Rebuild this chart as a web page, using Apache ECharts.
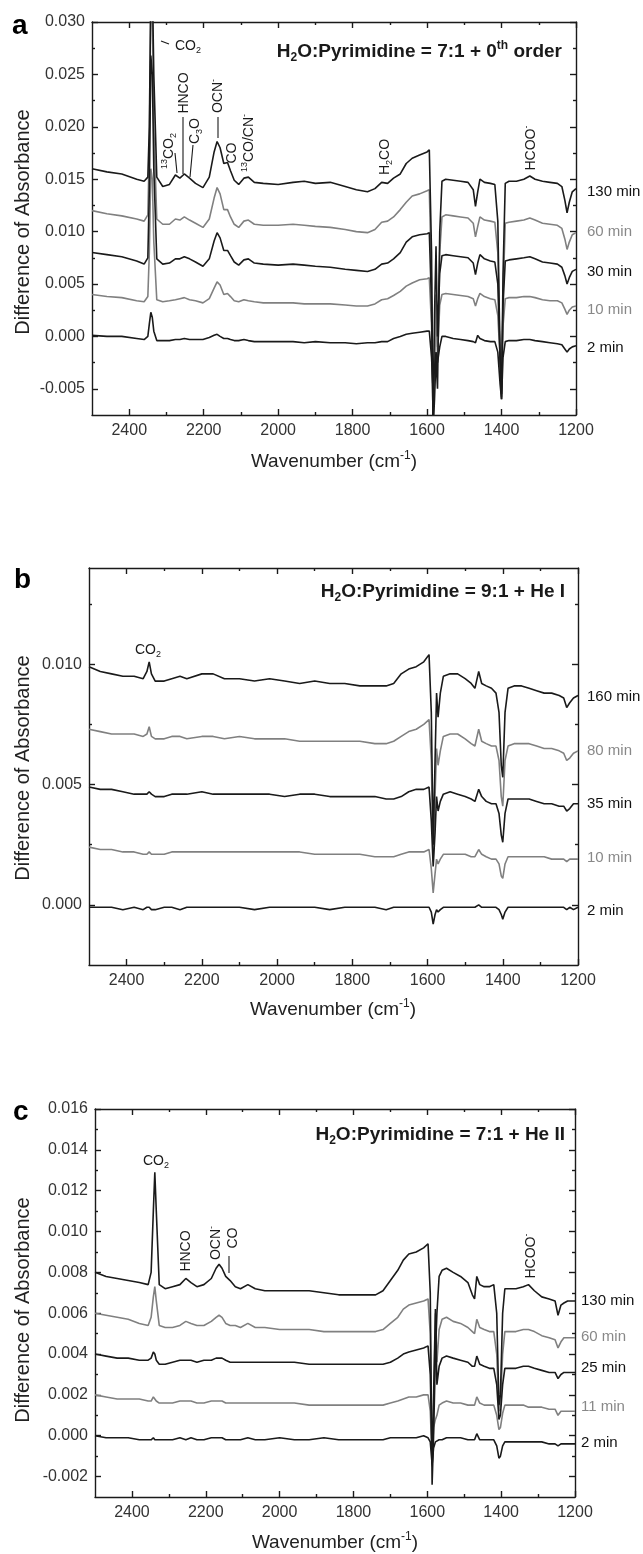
<!DOCTYPE html>
<html>
<head>
<meta charset="utf-8">
<script src="https://cdn.jsdelivr.net/npm/echarts@6.0.0/dist/echarts.min.js"></script>
<style>
html, body { margin: 0; padding: 0; background: #fff; }
#main { width: 643px; height: 1554px; }
</style>
</head>
<body>
<div id="main"></div>
<script>
// ---- axis ticks ----
const X_MAJOR = [1200, 1400, 1600, 1800, 2000, 2200, 2400];
const X_MINOR = [1300, 1500, 1700, 1900, 2100, 2300];
const A_Y_MAJOR = [-0.005, 0, 0.005, 0.01, 0.015, 0.02, 0.025, 0.03];
const A_Y_MINOR = [-0.0025, 0.0025, 0.0075, 0.0125, 0.0175, 0.0225, 0.0275];
const B_Y_MAJOR = [0, 0.005, 0.01];
const B_Y_MINOR = [0.0025, 0.0075, 0.0125];
const C_Y_MAJOR = [-0.002, 0, 0.002, 0.004, 0.006, 0.008, 0.01, 0.012, 0.014, 0.016];
const C_Y_MINOR = [-0.001, 0.001, 0.003, 0.005, 0.007, 0.009, 0.011, 0.013, 0.015];

// ---- panel a : 7:1 + 0th order ----
const WN_A = [
  2500, 2460, 2420, 2380, 2360, 2350, 2346, 2342, 2338, 2334,
  2326, 2310, 2292, 2276, 2264, 2252, 2238, 2222, 2202, 2185,
  2172, 2164, 2156, 2146, 2136, 2128, 2118, 2106, 2092, 2080,
  2064, 2040, 2000, 1960, 1930, 1900, 1860, 1820, 1790, 1760,
  1740, 1722, 1706, 1690, 1672, 1656, 1640, 1620, 1600, 1594,
  1588, 1584, 1580, 1576, 1572, 1566, 1560, 1550, 1530, 1510,
  1490, 1476, 1470, 1464, 1458, 1446, 1430, 1418, 1410, 1404,
  1400, 1396, 1390, 1380, 1360, 1340, 1324, 1310, 1290, 1270,
  1250, 1238, 1230, 1224, 1218, 1210, 1200
];
const A130 = [
  0.0160, 0.0157, 0.0155, 0.0150, 0.0148, 0.0152, 0.0200, 0.0330, 0.0340, 0.0250,
  0.0152, 0.0143, 0.0145, 0.0154, 0.0151, 0.0155, 0.0151, 0.0146, 0.0142, 0.0152,
  0.0176, 0.0186, 0.0180, 0.0165, 0.0166, 0.0158, 0.0149, 0.0145, 0.0151, 0.0152,
  0.0147, 0.0146, 0.0145, 0.0147, 0.0148, 0.0146, 0.0147, 0.0143, 0.0140, 0.0138,
  0.0141, 0.0147, 0.0146, 0.0151, 0.0155, 0.0165, 0.0170, 0.0173, 0.0176, 0.0178,
  0.0080, -0.0090, -0.0060, -0.0020, -0.0050, 0.0100, 0.0148, 0.0150, 0.0149, 0.0148,
  0.0147, 0.0140, 0.0124, 0.0138, 0.0150, 0.0147, 0.0146, 0.0145, 0.0110, -0.0020,
  -0.0060, 0.0060, 0.0146, 0.0148, 0.0148, 0.0150, 0.0153, 0.0150, 0.0148, 0.0147,
  0.0146, 0.0143, 0.0130, 0.0118, 0.0128, 0.0138, 0.0141
];
const A60 = [
  0.0120, 0.0117, 0.0115, 0.0112, 0.0110, 0.0116, 0.0180, 0.0320, 0.0310, 0.0200,
  0.0112, 0.0107, 0.0107, 0.0112, 0.0111, 0.0114, 0.0111, 0.0108, 0.0104, 0.0112,
  0.0132, 0.0142, 0.0136, 0.0121, 0.0121, 0.0114, 0.0107, 0.0104, 0.0110, 0.0111,
  0.0107, 0.0106, 0.0106, 0.0107, 0.0106, 0.0105, 0.0104, 0.0102, 0.0100, 0.0099,
  0.0102, 0.0109, 0.0110, 0.0114, 0.0121, 0.0128, 0.0134, 0.0136, 0.0139, 0.0140,
  0.0050, -0.0085, -0.0040, 0.0030, -0.0010, 0.0080, 0.0114, 0.0116, 0.0115, 0.0114,
  0.0113, 0.0108, 0.0095, 0.0105, 0.0114, 0.0111, 0.0110, 0.0109, 0.0080, -0.0020,
  -0.0058, 0.0040, 0.0108, 0.0109, 0.0110, 0.0111, 0.0113, 0.0111, 0.0108, 0.0107,
  0.0106, 0.0103, 0.0093, 0.0083, 0.0090, 0.0097, 0.0099
];
const A30 = [
  0.0080, 0.0078, 0.0076, 0.0072, 0.0069, 0.0075, 0.0140, 0.0268, 0.0250, 0.0160,
  0.0074, 0.0069, 0.0070, 0.0074, 0.0074, 0.0076, 0.0074, 0.0071, 0.0067, 0.0074,
  0.0091, 0.0099, 0.0094, 0.0082, 0.0082, 0.0077, 0.0071, 0.0068, 0.0073, 0.0074,
  0.0070, 0.0069, 0.0068, 0.0069, 0.0068, 0.0067, 0.0066, 0.0064, 0.0063, 0.0062,
  0.0064, 0.0069, 0.0070, 0.0074, 0.0080, 0.0090, 0.0095, 0.0097, 0.0098, 0.0099,
  0.0030, -0.0080, 0.0020, 0.0086, 0.0000, 0.0060, 0.0077, 0.0078, 0.0077, 0.0076,
  0.0075, 0.0070, 0.0059, 0.0070, 0.0078, 0.0074, 0.0072, 0.0071, 0.0050, -0.0020,
  -0.0055, 0.0030, 0.0072, 0.0073, 0.0074, 0.0075, 0.0076, 0.0074, 0.0071, 0.0070,
  0.0069, 0.0066, 0.0058, 0.0050, 0.0056, 0.0062, 0.0064
];
const A10 = [
  0.0040, 0.0038, 0.0037, 0.0034, 0.0033, 0.0038, 0.0080, 0.0160, 0.0150, 0.0090,
  0.0035, 0.0033, 0.0034, 0.0035, 0.0036, 0.0037, 0.0035, 0.0034, 0.0032, 0.0036,
  0.0046, 0.0052, 0.0049, 0.0040, 0.0041, 0.0038, 0.0034, 0.0033, 0.0035, 0.0034,
  0.0033, 0.0032, 0.0032, 0.0032, 0.0031, 0.0031, 0.0031, 0.0030, 0.0029, 0.0029,
  0.0031, 0.0035, 0.0036, 0.0039, 0.0043, 0.0048, 0.0051, 0.0054, 0.0055, 0.0056,
  0.0010, -0.0060, -0.0010, 0.0040, -0.0020, 0.0030, 0.0040, 0.0041, 0.0040, 0.0039,
  0.0038, 0.0036, 0.0029, 0.0036, 0.0041, 0.0038, 0.0036, 0.0035, 0.0020, -0.0020,
  -0.0050, 0.0010, 0.0036, 0.0037, 0.0037, 0.0038, 0.0038, 0.0037, 0.0035, 0.0034,
  0.0034, 0.0032, 0.0026, 0.0021, 0.0025, 0.0028, 0.0029
];
const A2 = [
  0.0001, 0.0000, 0.0000, -0.0002, -0.0003, 0.0000, 0.0012, 0.0023, 0.0018, 0.0005,
  -0.0004, -0.0004, -0.0004, -0.0003, -0.0003, -0.0002, -0.0003, -0.0003, -0.0003, -0.0001,
  0.0001, 0.0002, 0.0000, -0.0002, -0.0002, -0.0003, -0.0004, -0.0004, -0.0003, -0.0004,
  -0.0005, -0.0005, -0.0005, -0.0005, -0.0006, -0.0005, -0.0006, -0.0006, -0.0007, -0.0006,
  -0.0006, -0.0005, -0.0005, -0.0002, 0.0000, 0.0002, 0.0003, 0.0004, 0.0005, 0.0005,
  -0.0020, -0.0050, -0.0030, -0.0015, -0.0025, -0.0010, 0.0000, 0.0000, -0.0002, -0.0003,
  -0.0004, -0.0005, -0.0006, 0.0001, -0.0002, -0.0004, -0.0005, -0.0005, -0.0015, -0.0045,
  -0.0060, -0.0020, -0.0005, -0.0004, -0.0004, -0.0003, -0.0003, -0.0004, -0.0005, -0.0006,
  -0.0007, -0.0008, -0.0012, -0.0015, -0.0012, -0.0010, -0.0009
];

// ---- panel b : 9:1 + He I ----
const WN_B = [
  2500, 2470, 2440, 2410, 2380, 2356, 2346, 2340, 2334, 2324,
  2300, 2280, 2258, 2240, 2200, 2170, 2140, 2100, 2060, 2020,
  1980, 1940, 1900, 1860, 1820, 1780, 1740, 1710, 1690, 1670,
  1650, 1630, 1610, 1596, 1590, 1585, 1580, 1576, 1572, 1566,
  1558, 1540, 1520, 1500, 1484, 1474, 1464, 1456, 1444, 1430,
  1418, 1410, 1404, 1400, 1394, 1386, 1370, 1350, 1330, 1310,
  1290, 1270, 1250, 1238, 1230, 1222, 1212, 1200
];
const B160 = [
  0.0099, 0.0097, 0.0096, 0.0095, 0.0095, 0.0094, 0.0097, 0.0101, 0.0096, 0.0093,
  0.0093, 0.0094, 0.0095, 0.0094, 0.0096, 0.0096, 0.0094, 0.0094, 0.0093, 0.0094,
  0.0093, 0.0092, 0.0093, 0.0092, 0.0092, 0.0091, 0.0091, 0.0091, 0.0092, 0.0096,
  0.0098, 0.0099, 0.0101, 0.0104, 0.0080, 0.0025, 0.0060, 0.0088, 0.0078, 0.0088,
  0.0095, 0.0096, 0.0096, 0.0094, 0.0092, 0.0090, 0.0097, 0.0092, 0.0091, 0.0090,
  0.0088, 0.0080, 0.0058, 0.0053, 0.0080, 0.0090, 0.0091, 0.0091, 0.0090, 0.0089,
  0.0088, 0.0088, 0.0087, 0.0086, 0.0082, 0.0084, 0.0086, 0.0087
];
const B80 = [
  0.0073, 0.0072, 0.0071, 0.0071, 0.0071, 0.0070, 0.0071, 0.0074, 0.0070, 0.0069,
  0.0069, 0.0070, 0.0070, 0.0069, 0.0070, 0.0070, 0.0069, 0.0070, 0.0069, 0.0069,
  0.0069, 0.0068, 0.0068, 0.0068, 0.0068, 0.0068, 0.0067, 0.0067, 0.0068, 0.0070,
  0.0072, 0.0073, 0.0075, 0.0077, 0.0060, 0.0018, 0.0045, 0.0065, 0.0058, 0.0064,
  0.0070, 0.0071, 0.0071, 0.0069, 0.0067, 0.0066, 0.0073, 0.0068, 0.0067, 0.0066,
  0.0066, 0.0060, 0.0045, 0.0041, 0.0060, 0.0066, 0.0067, 0.0067, 0.0067, 0.0066,
  0.0065, 0.0065, 0.0064, 0.0063, 0.0060, 0.0061, 0.0063, 0.0064
];
const B35 = [
  0.0049, 0.0048, 0.0048, 0.0047, 0.0046, 0.0046, 0.0046, 0.0047, 0.0046, 0.0045,
  0.0045, 0.0046, 0.0046, 0.0046, 0.0047, 0.0046, 0.0046, 0.0046, 0.0046, 0.0046,
  0.0045, 0.0046, 0.0046, 0.0045, 0.0045, 0.0045, 0.0045, 0.0044, 0.0044, 0.0045,
  0.0047, 0.0048, 0.0048, 0.0049, 0.0035, 0.0016, 0.0030, 0.0045, 0.0039, 0.0043,
  0.0046, 0.0047, 0.0046, 0.0045, 0.0044, 0.0043, 0.0048, 0.0045, 0.0043, 0.0042,
  0.0042, 0.0038, 0.0029, 0.0026, 0.0038, 0.0044, 0.0044, 0.0044, 0.0044, 0.0043,
  0.0042, 0.0042, 0.0041, 0.0041, 0.0039, 0.0040, 0.0042, 0.0042
];
const B10 = [
  0.0024, 0.0023, 0.0023, 0.0022, 0.0022, 0.0021, 0.0021, 0.0022, 0.0021, 0.0021,
  0.0021, 0.0022, 0.0022, 0.0022, 0.0022, 0.0022, 0.0022, 0.0022, 0.0022, 0.0022,
  0.0022, 0.0022, 0.0021, 0.0021, 0.0021, 0.0021, 0.0020, 0.0020, 0.0020, 0.0021,
  0.0022, 0.0022, 0.0022, 0.0023, 0.0015, 0.0005, 0.0013, 0.0019, 0.0017, 0.0019,
  0.0021, 0.0021, 0.0021, 0.0021, 0.0020, 0.0020, 0.0023, 0.0021, 0.0020, 0.0019,
  0.0019, 0.0017, 0.0012, 0.0011, 0.0017, 0.0020, 0.0020, 0.0020, 0.0020, 0.0020,
  0.0020, 0.0019, 0.0019, 0.0019, 0.0018, 0.0019, 0.0019, 0.0019
];
const B2 = [
  -0.0001, -0.0001, -0.0001, -0.0002, -0.0001, -0.0002, -0.0001, -0.0001, -0.0002, -0.0002,
  -0.0001, -0.0001, -0.0002, -0.0001, -0.0001, -0.0001, -0.0001, -0.0001, -0.0002, -0.0001,
  -0.0001, -0.0001, -0.0001, -0.0002, -0.0001, -0.0001, -0.0001, -0.0002, -0.0001, -0.0001,
  -0.0001, -0.0001, -0.0001, -0.0001, -0.0003, -0.0008, -0.0004, -0.0002, -0.0003, -0.0002,
  -0.0001, -0.0001, -0.0001, -0.0001, -0.0001, -0.0001, 0.0000, -0.0001, -0.0001, -0.0001,
  -0.0001, -0.0002, -0.0004, -0.0006, -0.0003, -0.0001, -0.0001, -0.0001, -0.0001, -0.0001,
  -0.0001, -0.0001, -0.0001, -0.0001, -0.0002, -0.0001, -0.0002, -0.0001
];

// ---- panel c : 7:1 + He II ----
const WN_C = [
  2500, 2470, 2440, 2410, 2380, 2356, 2348, 2342, 2338, 2334,
  2326, 2310, 2290, 2270, 2254, 2240, 2224, 2205, 2185, 2172,
  2164, 2156, 2146, 2134, 2120, 2106, 2086, 2066, 2040, 2000,
  1960, 1920, 1880, 1840, 1800, 1770, 1740, 1720, 1700, 1680,
  1665, 1650, 1630, 1610, 1598, 1592, 1587, 1583, 1578, 1574,
  1568, 1560, 1548, 1530, 1510, 1490, 1478, 1472, 1466, 1458,
  1446, 1432, 1420, 1412, 1406, 1402, 1396, 1390, 1380, 1360,
  1340, 1326, 1310, 1290, 1270, 1254, 1246, 1238, 1230, 1220,
  1210, 1200
];
const C130 = [
  0.0080, 0.0078, 0.0077, 0.0076, 0.0075, 0.0074, 0.0080, 0.0110, 0.0129, 0.0110,
  0.0074, 0.0072, 0.0073, 0.0074, 0.0077, 0.0075, 0.0073, 0.0074, 0.0077, 0.0082,
  0.0084, 0.0082, 0.0078, 0.0076, 0.0073, 0.0072, 0.0074, 0.0072, 0.0071, 0.0071,
  0.0071, 0.0071, 0.0070, 0.0069, 0.0069, 0.0069, 0.0069, 0.0071, 0.0076, 0.0081,
  0.0086, 0.0089, 0.0090, 0.0092, 0.0094, 0.0070, -0.0024, 0.0000, 0.0040, 0.0060,
  0.0078, 0.0081, 0.0082, 0.0080, 0.0078, 0.0075, 0.0069, 0.0067, 0.0078, 0.0074,
  0.0073, 0.0073, 0.0074, 0.0060, 0.0015, 0.0020, 0.0060, 0.0072, 0.0072, 0.0072,
  0.0073, 0.0074, 0.0071, 0.0068, 0.0067, 0.0066, 0.0059, 0.0064, 0.0065, 0.0066,
  0.0066, 0.0066
];
const C60 = [
  0.0060, 0.0059, 0.0058, 0.0057, 0.0055, 0.0054, 0.0058, 0.0068, 0.0073, 0.0066,
  0.0054, 0.0053, 0.0053, 0.0054, 0.0056, 0.0055, 0.0054, 0.0054, 0.0056, 0.0058,
  0.0059, 0.0058, 0.0055, 0.0054, 0.0054, 0.0053, 0.0055, 0.0053, 0.0053, 0.0052,
  0.0052, 0.0052, 0.0051, 0.0051, 0.0051, 0.0051, 0.0051, 0.0052, 0.0055, 0.0058,
  0.0062, 0.0064, 0.0065, 0.0066, 0.0067, 0.0050, -0.0015, 0.0010, 0.0060, 0.0036,
  0.0052, 0.0057, 0.0058, 0.0056, 0.0055, 0.0053, 0.0051, 0.0050, 0.0057, 0.0053,
  0.0052, 0.0051, 0.0051, 0.0040, 0.0012, 0.0015, 0.0040, 0.0051, 0.0051, 0.0051,
  0.0052, 0.0052, 0.0051, 0.0049, 0.0048, 0.0047, 0.0043, 0.0046, 0.0048, 0.0048,
  0.0048, 0.0048
];
const C25 = [
  0.0040, 0.0039, 0.0038, 0.0038, 0.0037, 0.0037, 0.0038, 0.0041, 0.0040, 0.0037,
  0.0035, 0.0035, 0.0036, 0.0037, 0.0037, 0.0037, 0.0036, 0.0037, 0.0037, 0.0038,
  0.0038, 0.0038, 0.0037, 0.0036, 0.0036, 0.0036, 0.0036, 0.0036, 0.0036, 0.0036,
  0.0036, 0.0035, 0.0035, 0.0035, 0.0035, 0.0035, 0.0035, 0.0035, 0.0036, 0.0038,
  0.0040, 0.0041, 0.0042, 0.0043, 0.0044, 0.0030, -0.0010, 0.0020, 0.0062, 0.0025,
  0.0034, 0.0038, 0.0039, 0.0038, 0.0037, 0.0036, 0.0034, 0.0034, 0.0039, 0.0035,
  0.0034, 0.0033, 0.0033, 0.0025, 0.0008, 0.0010, 0.0025, 0.0033, 0.0033, 0.0033,
  0.0034, 0.0034, 0.0033, 0.0032, 0.0031, 0.0031, 0.0028, 0.0030, 0.0031, 0.0031,
  0.0031, 0.0031
];
const C11 = [
  0.0020, 0.0019, 0.0018, 0.0018, 0.0018, 0.0017, 0.0017, 0.0019, 0.0019, 0.0017,
  0.0016, 0.0016, 0.0016, 0.0017, 0.0017, 0.0017, 0.0016, 0.0016, 0.0017, 0.0017,
  0.0017, 0.0017, 0.0016, 0.0016, 0.0016, 0.0016, 0.0016, 0.0016, 0.0016, 0.0016,
  0.0016, 0.0015, 0.0015, 0.0015, 0.0015, 0.0015, 0.0015, 0.0015, 0.0016, 0.0017,
  0.0018, 0.0019, 0.0019, 0.0020, 0.0020, 0.0012, -0.0012, 0.0004, 0.0008, 0.0010,
  0.0015, 0.0016, 0.0017, 0.0016, 0.0016, 0.0015, 0.0015, 0.0015, 0.0019, 0.0016,
  0.0015, 0.0015, 0.0015, 0.0010, 0.0003, 0.0004, 0.0011, 0.0015, 0.0015, 0.0015,
  0.0015, 0.0014, 0.0014, 0.0014, 0.0013, 0.0013, 0.0010, 0.0012, 0.0012, 0.0012,
  0.0012, 0.0012
];
const C2 = [
  0.0000, -0.0001, -0.0001, -0.0001, -0.0002, -0.0002, -0.0002, -0.0001, -0.0002, -0.0002,
  -0.0002, -0.0002, -0.0002, -0.0001, -0.0002, -0.0001, -0.0002, -0.0002, -0.0001, -0.0001,
  -0.0001, -0.0001, -0.0002, -0.0002, -0.0002, -0.0002, -0.0001, -0.0002, -0.0002, -0.0001,
  -0.0002, -0.0002, -0.0001, -0.0002, -0.0002, -0.0002, -0.0002, -0.0002, -0.0001, -0.0001,
  -0.0001, -0.0001, -0.0001, 0.0000, -0.0001, -0.0003, -0.0014, -0.0006, -0.0003, -0.0003,
  -0.0002, -0.0002, -0.0001, -0.0001, -0.0001, -0.0002, -0.0002, -0.0002, 0.0001, -0.0002,
  -0.0002, -0.0002, -0.0002, -0.0005, -0.0011, -0.0010, -0.0005, -0.0003, -0.0003, -0.0003,
  -0.0003, -0.0003, -0.0003, -0.0003, -0.0004, -0.0004, -0.0005, -0.0004, -0.0004, -0.0004,
  -0.0004, -0.0004
];

const FONT = '"Liberation Sans", Arial, sans-serif';
const INK = '#1a1a1a';
const GREY = '#808080';

const panels = [
  {
    grid: { left: 92, top: 22, width: 484, height: 393 },
    yMin: -0.0075, yMax: 0.030, yMajor: A_Y_MAJOR, yMinor: A_Y_MINOR, wn: WN_A,
    lines: [['130 min', A130, INK, 192], ['60 min', A60, GREY, 232], ['30 min', A30, INK, 272],
            ['10 min', A10, GREY, 310], ['2 min', A2, INK, 348]],
    labelX: 587
  },
  {
    grid: { left: 89, top: 568, width: 489, height: 397 },
    yMin: -0.0025, yMax: 0.014, yMajor: B_Y_MAJOR, yMinor: B_Y_MINOR, wn: WN_B,
    lines: [['160 min', B160, INK, 697], ['80 min', B80, GREY, 751], ['35 min', B35, INK, 804],
            ['10 min', B10, GREY, 858], ['2 min', B2, INK, 911]],
    labelX: 587
  },
  {
    grid: { left: 95, top: 1109, width: 480, height: 388 },
    yMin: -0.003, yMax: 0.016, yMajor: C_Y_MAJOR, yMinor: C_Y_MINOR, wn: WN_C,
    lines: [['130 min', C130, INK, 1301], ['60 min', C60, GREY, 1337], ['25 min', C25, INK, 1368],
            ['11 min', C11, GREY, 1407], ['2 min', C2, INK, 1443]],
    labelX: 581
  }
];

const lineStyle = { color: INK, width: 1.4 };

function xAxesFor(gi) {
  const base = { gridIndex: gi, type: 'value', min: 1200, max: 2500, inverse: true, splitLine: { show: false } };
  const major = { inside: true, length: 6, customValues: X_MAJOR, lineStyle: lineStyle };
  const minor = { inside: true, length: 3, customValues: X_MINOR, lineStyle: lineStyle };
  const line = { show: true, onZero: false, lineStyle: lineStyle };
  const noLine = { show: false, onZero: false };
  return [
    Object.assign({}, base, {
      position: 'bottom', axisLine: line, axisTick: major,
      axisLabel: { customValues: X_MAJOR, formatter: v => String(v), fontSize: 16, color: '#333', fontFamily: FONT, margin: 8 }
    }),
    Object.assign({}, base, { position: 'bottom', axisLine: noLine, axisTick: minor, axisLabel: { show: false } }),
    Object.assign({}, base, { position: 'top', axisLine: line, axisTick: major, axisLabel: { show: false } }),
    Object.assign({}, base, { position: 'top', axisLine: noLine, axisTick: minor, axisLabel: { show: false } })
  ];
}

function yAxesFor(gi, p) {
  const base = { gridIndex: gi, type: 'value', min: p.yMin, max: p.yMax, splitLine: { show: false } };
  const major = { inside: true, length: 6, customValues: p.yMajor, lineStyle: lineStyle };
  const minor = { inside: true, length: 3, customValues: p.yMinor, lineStyle: lineStyle };
  const line = { show: true, onZero: false, lineStyle: lineStyle };
  const noLine = { show: false, onZero: false };
  return [
    Object.assign({}, base, {
      position: 'left', axisLine: line, axisTick: major,
      axisLabel: { customValues: p.yMajor, formatter: v => v.toFixed(3), fontSize: 16, color: '#333', fontFamily: FONT, margin: 7 }
    }),
    Object.assign({}, base, { position: 'left', axisLine: noLine, axisTick: minor, axisLabel: { show: false } }),
    Object.assign({}, base, { position: 'right', axisLine: line, axisTick: major, axisLabel: { show: false } }),
    Object.assign({}, base, { position: 'right', axisLine: noLine, axisTick: minor, axisLabel: { show: false } })
  ];
}

const grids = [], xAxis = [], yAxis = [], series = [];
panels.forEach((p, gi) => {
  grids.push(Object.assign({ show: false }, p.grid));
  xAxis.push(...xAxesFor(gi));
  yAxis.push(...yAxesFor(gi, p));
  p.lines.forEach(([name, vals, color]) => {
    series.push({
      name: name, type: 'line', xAxisIndex: gi * 4, yAxisIndex: gi * 4,
      data: p.wn.map((w, i) => [w, vals[i]]),
      showSymbol: false, symbol: 'none', clip: true,
      lineStyle: { color: color, width: 1.6 }, itemStyle: { color: color },
      z: color === INK ? 3 : 2
    });
  });
});

// ---- text: rich styles for sub/superscripts ----
const RICH = {
  t: { fontSize: 14, fontFamily: FONT, fill: INK, lineHeight: 18 },
  s: { fontSize: 9, fontFamily: FONT, fill: INK, lineHeight: 8, verticalAlign: 'bottom' },
  p: { fontSize: 9, fontFamily: FONT, fill: INK, lineHeight: 8, verticalAlign: 'top' },
  b: { fontSize: 19, fontFamily: FONT, fontWeight: 'bold', fill: INK, lineHeight: 24 },
  bs: { fontSize: 12, fontFamily: FONT, fontWeight: 'bold', fill: INK, lineHeight: 9, verticalAlign: 'bottom' },
  bp: { fontSize: 12, fontFamily: FONT, fontWeight: 'bold', fill: INK, lineHeight: 9, verticalAlign: 'top' },
  ax: { fontSize: 19, fontFamily: FONT, fill: '#222', lineHeight: 24 },
  axp: { fontSize: 12, fontFamily: FONT, fill: '#222', lineHeight: 10, verticalAlign: 'top' }
};

function rt(x, y, text, opt) {
  opt = opt || {};
  return {
    type: 'text', x: x, y: y, rotation: opt.rot ? Math.PI / 2 : 0, silent: true, z: 10,
    style: { text: text, rich: RICH, align: opt.align || 'center', verticalAlign: 'middle', fill: INK }
  };
}
function plain(x, y, text, size, color, opt) {
  opt = opt || {};
  return {
    type: 'text', x: x, y: y, rotation: opt.rot ? Math.PI / 2 : 0, silent: true, z: 10,
    style: { text: text, fontSize: size, fontFamily: FONT, fontWeight: opt.bold ? 'bold' : 'normal',
             fill: color, align: opt.align || 'left', verticalAlign: 'middle' }
  };
}
function seg(x1, y1, x2, y2) {
  return { type: 'line', silent: true, z: 10, shape: { x1: x1, y1: y1, x2: x2, y2: y2 }, style: { stroke: INK, lineWidth: 1.1 } };
}

const graphic = [
  // panel letters
  plain(12, 26, 'a', 28, '#000', { bold: true }),
  plain(14, 580, 'b', 28, '#000', { bold: true }),
  plain(13, 1112, 'c', 28, '#000', { bold: true }),
  // titles
  rt(562, 52, '{b|H}{bs|2}{b|O:Pyrimidine = 7:1 + 0}{bp|th}{b| order}', { align: 'right' }),
  rt(565, 592, '{b|H}{bs|2}{b|O:Pyrimidine = 9:1 + He I}', { align: 'right' }),
  rt(565, 1135, '{b|H}{bs|2}{b|O:Pyrimidine = 7:1 + He II}', { align: 'right' }),
  // axis titles
  rt(334, 462, '{ax|Wavenumber (cm}{axp|-1}{ax|)}'),
  rt(333, 1010, '{ax|Wavenumber (cm}{axp|-1}{ax|)}'),
  rt(335, 1543, '{ax|Wavenumber (cm}{axp|-1}{ax|)}'),
  plain(23, 222, 'Difference of Absorbance', 20, '#222', { rot: true, align: 'center' }),
  plain(23, 768, 'Difference of Absorbance', 20, '#222', { rot: true, align: 'center' }),
  plain(23, 1310, 'Difference of Absorbance', 20, '#222', { rot: true, align: 'center' }),
  // panel a annotations
  rt(175, 46, '{t|CO}{s|2}', { align: 'left' }),
  seg(161, 41, 169, 44),
  rt(169, 151, '{p|13}{t|CO}{s|2}', { rot: true }),
  seg(175, 153, 177, 173),
  rt(184, 93, '{t|HNCO}', { rot: true }),
  seg(183, 117, 183, 174),
  rt(195, 131, '{t|C}{s|3}{t|O}', { rot: true }),
  seg(193, 145, 190, 177),
  rt(218, 96, '{t|OCN}{p|-}', { rot: true }),
  seg(218, 117, 218, 138),
  rt(232, 153, '{t|CO}', { rot: true }),
  rt(249, 143, '{p|13}{t|CO/CN}{p|-}', { rot: true }),
  rt(385, 157, '{t|H}{s|2}{t|CO}', { rot: true }),
  rt(531, 148, '{t|HCOO}{p|-}', { rot: true }),
  // panel b annotation
  rt(148, 650, '{t|CO}{s|2}'),
  // panel c annotations
  rt(156, 1161, '{t|CO}{s|2}'),
  rt(186, 1251, '{t|HNCO}', { rot: true }),
  rt(216, 1243, '{t|OCN}{p|-}', { rot: true }),
  rt(233, 1238, '{t|CO}', { rot: true }),
  seg(229, 1256, 229, 1273),
  rt(531, 1256, '{t|HCOO}{p|-}', { rot: true })
];

// time labels at right of each panel
panels.forEach(p => {
  p.lines.forEach(([name, , color, ly]) => {
    graphic.push(plain(p.labelX, ly, name, 15, color === INK ? '#111' : '#888'));
  });
});

const chart = echarts.init(document.getElementById('main'), null, { renderer: 'canvas' });
chart.setOption({
  animation: false,
  backgroundColor: '#fff',
  grid: grids,
  xAxis: xAxis,
  yAxis: yAxis,
  series: series,
  graphic: graphic
});
</script>
</body>
</html>
